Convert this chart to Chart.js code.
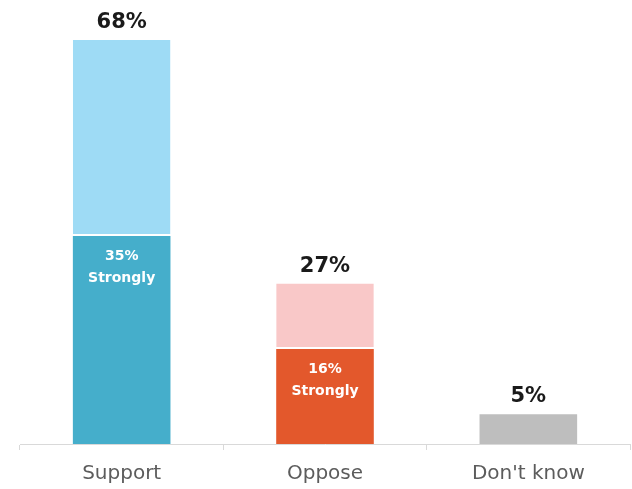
<!DOCTYPE html>
<html>
<head>
<meta charset="utf-8">
<script src="https://cdn.jsdelivr.net/npm/chart.js@4/dist/chart.umd.min.js"></script>
<style>
  html, body { margin: 0; padding: 0; background: #ffffff; }
  #wrap { width: 632px; height: 489px; }
</style>
</head>
<body>
<div id="wrap"><canvas id="c" width="632" height="489"></canvas></div>
<script>
// Categories and shares (percent)
const categories = ['Support', 'Oppose', "Don't know"];
const stronglyValues = [35, 16, 5];     // lower segment ("Strongly"; Don't know is a single block)
const somewhatValues = [33, 11, 0];     // upper segment
const totalLabels = ['68%', '27%', '5%'];
const innerLabels = [['35%', 'Strongly'], ['16%', 'Strongly'], null];

const lowerColors = ['#45AECB', '#E3582C', '#BEBEBE'];
const upperColors = ['#9EDBF5', '#F9C8C8', 'rgba(0,0,0,0)'];

const FONT = '"DejaVu Sans", sans-serif';

// Draws the total above each stack and the "Strongly" note inside the lower segment
const barLabels = {
  id: 'barLabels',
  afterDatasetsDraw(chart) {
    const ctx = chart.ctx;
    const lower = chart.getDatasetMeta(0).data;
    const y = chart.scales.y;
    ctx.save();
    ctx.textAlign = 'center';
    ctx.textBaseline = 'alphabetic';
    categories.forEach((_, i) => {
      const total = stronglyValues[i] + somewhatValues[i];
      const x = lower[i].x;
      const top = y.getPixelForValue(total);
      ctx.fillStyle = '#1a1a1a';
      ctx.font = 'bold 21px ' + FONT;
      ctx.fillText(totalLabels[i], x, top - 12);
      if (innerLabels[i]) {
        const segTop = y.getPixelForValue(stronglyValues[i]);
        ctx.fillStyle = '#ffffff';
        ctx.font = 'bold 14px ' + FONT;
        ctx.fillText(innerLabels[i][0], x, segTop + 24);
        ctx.fillText(innerLabels[i][1], x, segTop + 46);
      }
    });
    ctx.restore();
  }
};

new Chart(document.getElementById('c'), {
  type: 'bar',
  data: {
    labels: categories,
    datasets: [
      {
        label: 'Strongly',
        data: stronglyValues,
        backgroundColor: lowerColors,
        borderWidth: 0,
        categoryPercentage: 1,
        barPercentage: 0.48
      },
      {
        label: 'Somewhat',
        data: somewhatValues,
        backgroundColor: upperColors,
        borderColor: '#ffffff',
        borderWidth: { bottom: 2, top: 0, left: 0, right: 0 },
        borderSkipped: false,
        categoryPercentage: 1,
        barPercentage: 0.48
      }
    ]
  },
  options: {
    responsive: false,
    animation: false,
    layout: { padding: { top: 40, left: 20, right: 2, bottom: 3 } },
    plugins: {
      legend: { display: false },
      tooltip: { enabled: false }
    },
    scales: {
      x: {
        stacked: true,
        afterFit(scale) { scale.height = 42; },
        grid: {
          display: true,
          offset: true,
          drawOnChartArea: false,
          drawTicks: true,
          tickLength: 6,
          color: '#d9d9d9'
        },
        border: { display: true, color: '#d9d9d9', width: 1 },
        ticks: {
          color: '#5c5c5c',
          padding: 12,
          font: { family: FONT, size: 20 }
        }
      },
      y: {
        stacked: true,
        display: false,
        min: 0,
        max: 68
      }
    }
  },
  plugins: [barLabels]
});
</script>
</body>
</html>
